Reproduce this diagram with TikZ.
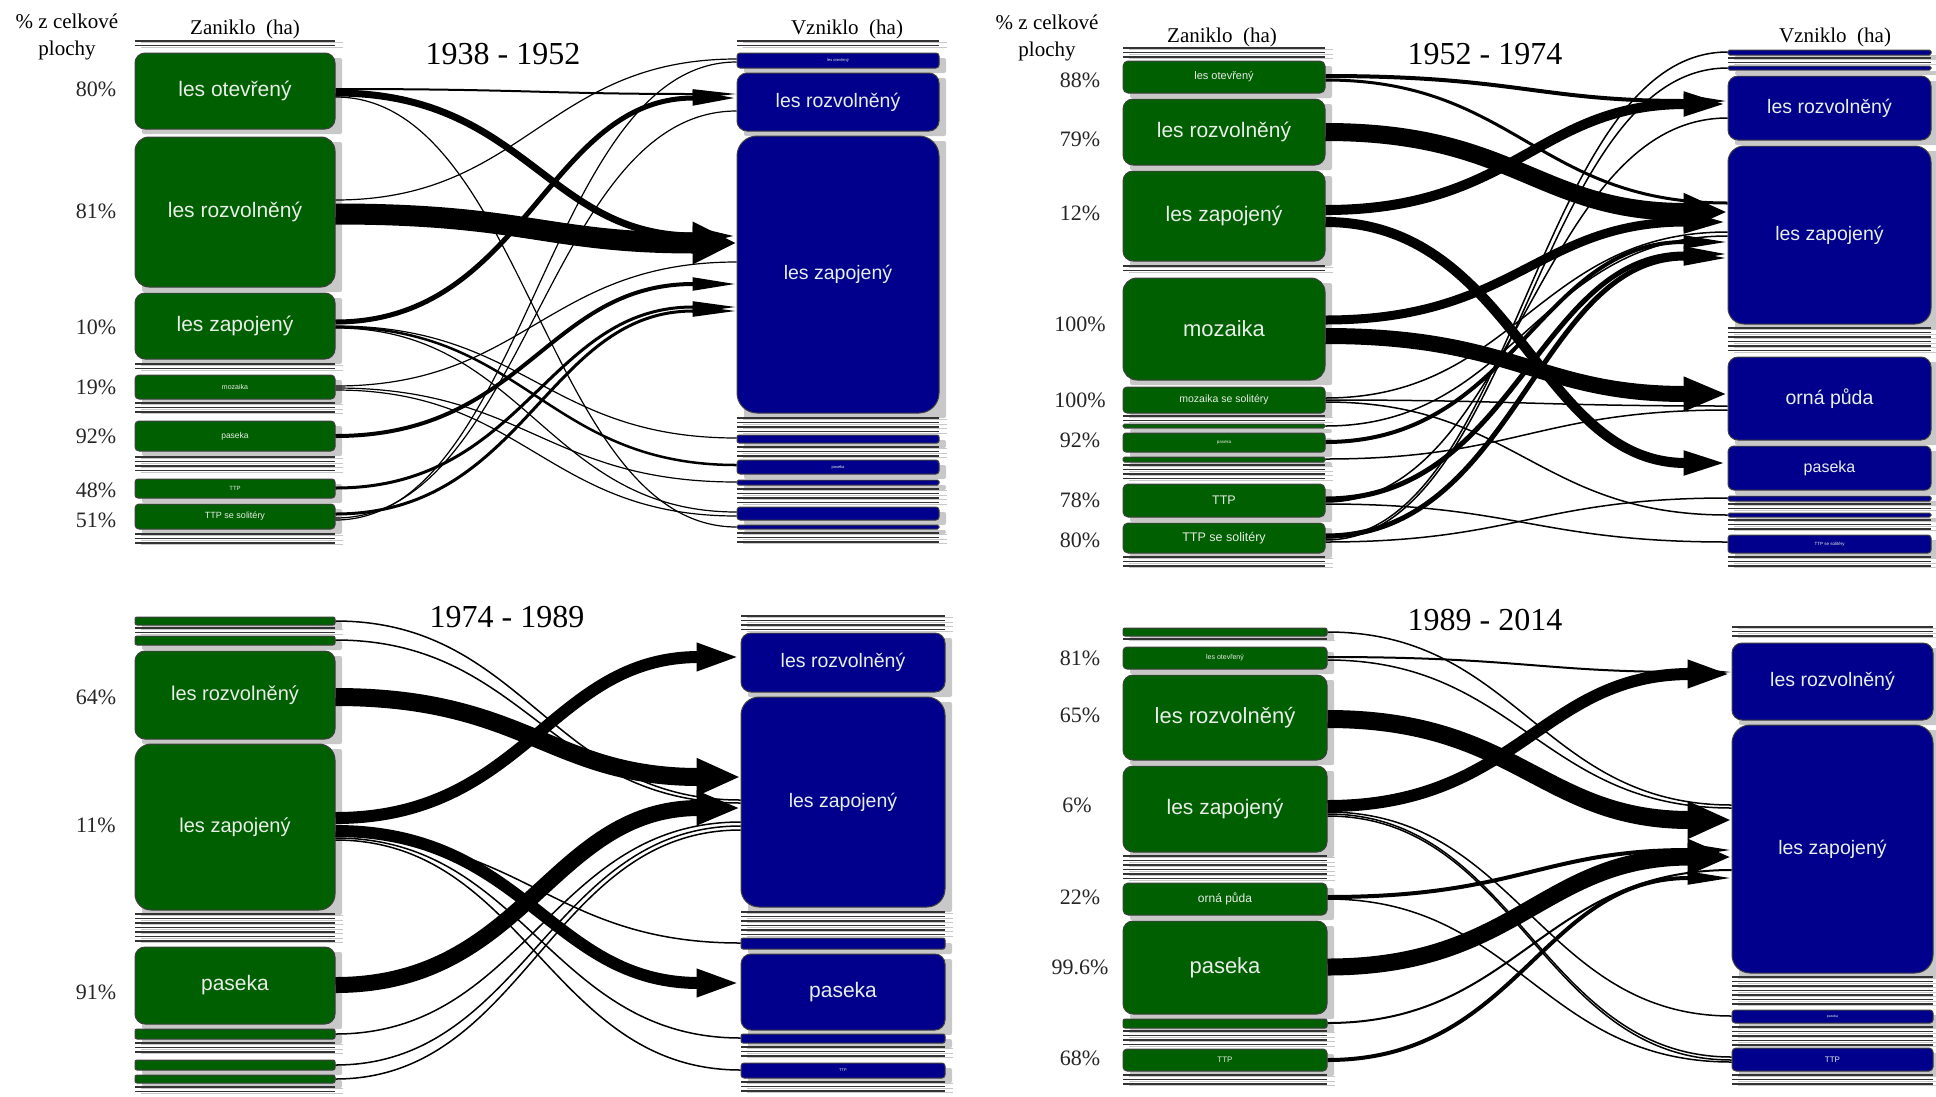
\documentclass[tikz,border=0pt]{standalone}
\usepackage{fontspec}
\setmainfont{Liberation Serif}
\newfontfamily\arialf{Liberation Sans}
\usetikzlibrary{arrows.meta}
\definecolor{grn}{RGB}{0,95,0}
\definecolor{blu}{RGB}{0,0,140}
\definecolor{shd}{RGB}{200,200,200}
\definecolor{txw}{RGB}{232,238,232}
\newcommand{\sz}[1]{\fontsize{#1}{#1}\selectfont}
\tikzset{
 gb/.style={draw=black!75, line width=1pt, fill=grn, text=txw, rounded corners=#1, inner sep=0pt},
 gb/.default=10pt,
 bb/.style={draw=black!75, line width=1pt, fill=blu, text=txw, rounded corners=#1, inner sep=0pt},
 bb/.default=10pt,
 pct/.style={font=\fontsize{22}{22}\selectfont, text=black!85},
 hdr/.style={font=\fontsize{21}{27}\selectfont, align=center},
 ttl/.style={font=\fontsize{32}{32}\selectfont},
}
% box: name, x0,y0,x1,y1, style, fontsize, text
\newcommand{\bx}[8]{%
  \fill[shd, rounded corners=2pt] (#2+7,#3+5) rectangle (#4+7,#5+5);
  \node[#6, minimum width={#4-#2}, minimum height={#5-#3}, font=\arialf\sz{#7}] (#1) at ({(#2+#4)/2},{(#3+#5)/2}) {#8};}
% stripes: x0 x1 ya yb
\newcommand{\stp}[4]{%
  \pgfmathtruncatemacro\nst{(#4-#3)/4.5}
  \foreach \i in {0,...,\nst}{
    \pgfmathsetmacro\yy{#3+4.5*\i}
    \draw[shd, line width=1.3pt] (#1+6,\yy+1.8) -- (#2+8,\yy+1.8);
    \draw[black!80, line width=1.1pt] (#1,\yy) -- (#2,\yy);
  }}
% flow without arrow: from, y0, to, y1, width
\newcommand{\fl}[5]{\draw[line width=#5pt] (#1.east |- 0,#2) .. controls +(190,0) and +(-190,0) .. (#3.west |- 0,#4);}
% flow with arrow
\newcommand{\fa}[5]{\pgfmathsetlengthmacro\aw{1.6*#5+6}%
  \draw[line width=#5pt, -{Triangle[length=44pt,width=\aw]}] (#1.east |- 0,#2) .. controls +(190,0) and +(-190,0) .. (#3.west |- 0,#4);}

\begin{document}
\begin{tikzpicture}[x=1pt,y=-1pt]
\fill[white] (0,0) rectangle (1936,1096);
\useasboundingbox (0,0) rectangle (1936,1096);

%%%%%%%%%%%%%%%% PANEL 1 %%%%%%%%%%%%%%%%
\node[hdr] (hp1) at (67,37) {\% z celkové\\plochy};
\node[hdr] (hz1) at (245,29) {Zaniklo~~(ha)};
\node[hdr] (hv1) at (847,29) {Vzniklo~~(ha)};
\node[ttl] (t1) at (503,54) {1938 - 1952};

\stp{135}{335}{41}{48}
\bx{a1}{135}{53}{335}{129}{gb}{21}{les otevřený}
\bx{a2}{135}{137}{335}{287}{gb=14pt}{21}{les rozvolněný}
\bx{a3}{135}{293}{335}{359}{gb}{21}{les zapojený}
\stp{135}{335}{364}{371}
\bx{a4}{135}{375}{335}{399}{gb=4pt}{7}{mozaika}
\stp{135}{335}{403}{416}
\bx{a5}{135}{421}{335}{451}{gb=4pt}{8.5}{paseka}
\stp{135}{335}{457}{473}
\bx{a6}{135}{479}{335}{498}{gb=3pt}{6}{TTP}
\bx{a7}{135}{504}{335}{529}{gb=4pt}{9}{TTP se solitéry}
\stp{135}{335}{534}{546}

\node[pct] (p11) at (96,89) {80\%};
\node[pct] (p12) at (96,211) {81\%};
\node[pct] (p13) at (96,327) {10\%};
\node[pct] (p14) at (96,387) {19\%};
\node[pct] (p15) at (96,436) {92\%};
\node[pct] (p16) at (96,490) {48\%};
\node[pct] (p17) at (96,520) {51\%};

\stp{737}{939}{41}{48}
\bx{b1}{737}{53}{939}{68}{bb=3pt}{4}{les otevřený}
\bx{b2}{737}{73}{939}{131}{bb}{19.5}{les rozvolněný}
\bx{b3}{737}{136}{939}{413}{bb=20pt}{19.5}{les zapojený}
\stp{737}{939}{418}{432}
\bx{b4}{737}{435}{939}{443}{bb=2pt}{1}{}
\stp{737}{939}{447}{456}
\bx{b5}{737}{460}{939}{474}{bb=3pt}{4}{paseka}
\bx{b6}{737}{480}{939}{485}{bb=1.5pt}{1}{}
\stp{737}{939}{489}{503}
\bx{b7}{737}{507}{939}{520}{bb=3pt}{1}{}
\bx{b8}{737}{525}{939}{529}{bb=1.5pt}{1}{}
\stp{737}{939}{533}{543}

\fa{a1}{89}{b2}{94}{2}
\fa{a1}{93}{b3}{236}{7}
\fl{a1}{97}{b8}{527}{1.2}
\fa{a2}{214}{b3}{243}{21}
\fl{a2}{200}{b1}{59}{1.2}
\fa{a3}{322}{b2}{98}{5}
\fl{a3}{326}{b4}{438}{1.2}
\fl{a3}{327}{b5}{465}{2.5}
\fl{a3}{328}{b7}{512}{1.2}
\fl{a4}{386}{b3}{262}{1.2}
\fl{a4}{388}{b6}{482}{1.2}
\fl{a4}{390}{b7}{516}{1.2}
\fa{a5}{436}{b3}{284}{4}
\fa{a6}{488}{b3}{307}{3}
\fa{a7}{514}{b3}{311}{3}
\fl{a7}{518}{b2}{111}{1.2}
\fl{a7}{520}{b1}{62}{1.2}

%%%%%%%%%%%%%%%% PANEL 2 %%%%%%%%%%%%%%%%
\node[hdr] (hp2) at (1047,38) {\% z celkové\\plochy};
\node[hdr] (hz2) at (1222,37) {Zaniklo~~(ha)};
\node[hdr] (hv2) at (1835,37) {Vzniklo~~(ha)};
\node[ttl] (t2) at (1485,54) {1952 - 1974};

\stp{1123}{1325}{48}{57}
\bx{c1}{1123}{61}{1325}{93}{gb=5pt}{11}{les otevřený}
\bx{c2}{1123}{99}{1325}{165}{gb}{21}{les rozvolněný}
\bx{c3}{1123}{171}{1325}{261}{gb}{21}{les zapojený}
\stp{1123}{1325}{266}{274}
\bx{c4}{1123}{278}{1325}{380}{gb=14pt}{22}{mozaika}
\bx{c5}{1123}{387}{1325}{413}{gb=4pt}{10.5}{mozaika se solitéry}
\stp{1123}{1325}{416}{421}
\bx{c6}{1123}{424}{1325}{428}{gb=1.5pt}{1}{}
\bx{c7}{1123}{433}{1325}{452}{gb=3pt}{4.5}{paseka}
\bx{c8}{1123}{457}{1325}{462}{gb=1.5pt}{1}{}
\stp{1123}{1325}{465}{479}
\bx{c9}{1123}{484}{1325}{517}{gb=5pt}{12.5}{TTP}
\bx{c10}{1123}{523}{1325}{553}{gb=5pt}{12.5}{TTP se solitéry}
\stp{1123}{1325}{557}{566}

\node[pct] (p21) at (1080,80) {88\%};
\node[pct] (p22) at (1080,139) {79\%};
\node[pct] (p23) at (1080,213) {12\%};
\node[pct] (p24) at (1080,324) {100\%};
\node[pct] (p25) at (1080,400) {100\%};
\node[pct] (p26) at (1080,440) {92\%};
\node[pct] (p27) at (1080,500) {78\%};
\node[pct] (p28) at (1080,540) {80\%};

\bx{d1}{1728}{50}{1931}{55}{bb=1.5pt}{1}{}
\stp{1728}{1931}{58}{63}
\bx{d2}{1728}{66}{1931}{70}{bb=1.5pt}{1}{}
\bx{d3}{1728}{76}{1931}{140}{bb}{19.5}{les rozvolněný}
\bx{d4}{1728}{146}{1931}{324}{bb=16pt}{19.5}{les zapojený}
\stp{1728}{1931}{328}{352}
\bx{d5}{1728}{357}{1931}{440}{bb=10pt}{19.5}{orná půda}
\bx{d6}{1728}{446}{1931}{490}{bb=6pt}{16}{paseka}
\bx{d7}{1728}{496}{1931}{501}{bb=1.5pt}{1}{}
\stp{1728}{1931}{504}{510}
\bx{d8}{1728}{513}{1931}{517}{bb=1.5pt}{1}{}
\stp{1728}{1931}{520}{531}
\bx{d9}{1728}{535}{1931}{553}{bb=3pt}{4.5}{TTP se solitéry}
\stp{1728}{1931}{557}{566}

\fa{c1}{76}{d3}{101}{4}
\fl{c1}{80}{d4}{203}{3}
\fa{c2}{132}{d4}{212}{18}
\fa{c3}{210}{d3}{104}{10}
\fa{c3}{222}{d6}{463}{10}
\fa{c4}{320}{d4}{222}{9}
\fa{c4}{336}{d5}{394}{16}
\fl{c5}{400}{d5}{406}{1.5}
\fl{c5}{398}{d4}{232}{1.5}
\fl{c5}{402}{d8}{515}{1.5}
\fl{c6}{426}{d4}{236}{1.5}
\fa{c7}{442}{d4}{242}{4}
\fl{c8}{459}{d5}{410}{1.5}
\fa{c9}{499}{d4}{254}{5}
\fl{c9}{502}{d3}{118}{1.5}
\fl{c9}{504}{d9}{542}{1.5}
\fa{c10}{536}{d4}{258}{5}
\fl{c10}{538}{d1}{52}{1.5}
\fl{c10}{540}{d2}{68}{1.5}
\fl{c10}{542}{d7}{498}{1.5}

%%%%%%%%%%%%%%%% PANEL 3 %%%%%%%%%%%%%%%%
\node[ttl] (t3) at (507,617) {1974 - 1989};

\bx{e1}{135}{617}{335}{625}{gb=2pt}{1}{}
\stp{135}{335}{628}{633}
\bx{e2}{135}{636}{335}{645}{gb=2pt}{1}{}
\bx{e3}{135}{651}{335}{739}{gb}{20}{les rozvolněný}
\bx{e4}{135}{744}{335}{910}{gb=16pt}{20}{les zapojený}
\stp{135}{335}{914}{943}
\bx{e5}{135}{947}{335}{1024}{gb}{21}{paseka}
\bx{e6}{135}{1029}{335}{1039}{gb=2pt}{1}{}
\stp{135}{335}{1043}{1056}
\bx{e7}{135}{1060}{335}{1070}{gb=2pt}{1}{}
\bx{e8}{135}{1075}{335}{1083}{gb=2pt}{1}{}
\stp{135}{335}{1087}{1095}

\node[pct] (p31) at (96,697) {64\%};
\node[pct] (p32) at (96,825) {11\%};
\node[pct] (p33) at (96,992) {91\%};

\stp{741}{945}{616}{630}
\bx{f1}{741}{633}{945}{692}{bb}{19.5}{les rozvolněný}
\bx{f2}{741}{697}{945}{907}{bb=18pt}{19.5}{les zapojený}
\stp{741}{945}{912}{935}
\bx{f3}{741}{938}{945}{949}{bb=2pt}{1}{}
\bx{f4}{741}{954}{945}{1030}{bb}{21}{paseka}
\bx{f5}{741}{1034}{945}{1043}{bb=2pt}{1}{}
\stp{741}{945}{1047}{1060}
\bx{f6}{741}{1063}{945}{1078}{bb=3pt}{4}{TTP}
\stp{741}{945}{1082}{1095}

\fl{e1}{621}{f2}{800}{1.5}
\fl{e2}{640}{f2}{803}{1.5}
\fa{e3}{697}{f2}{777}{18}
\fa{e4}{818}{f1}{657}{12}
\fa{e4}{831}{f4}{983}{12}
\fl{e4}{836}{f3}{943}{1.5}
\fl{e4}{838}{f5}{1038}{1.5}
\fl{e4}{840}{f6}{1070}{1.5}
\fa{e5}{985}{f2}{808}{16}
\fl{e6}{1034}{f2}{822}{1.5}
\fl{e7}{1065}{f2}{826}{1.5}
\fl{e8}{1079}{f2}{830}{1.5}

%%%%%%%%%%%%%%%% PANEL 4 %%%%%%%%%%%%%%%%
\node[ttl] (t4) at (1485,620) {1989 - 2014};

\bx{g1}{1123}{628}{1327}{636}{gb=2pt}{1}{}
\stp{1123}{1327}{639}{643}
\bx{g2}{1123}{647}{1327}{669}{gb=4pt}{7}{les otevřený}
\bx{g3}{1123}{675}{1327}{760}{gb}{22}{les rozvolněný}
\bx{g4}{1123}{766}{1327}{852}{gb}{21}{les zapojený}
\stp{1123}{1327}{856}{880}
\bx{g5}{1123}{883}{1327}{915}{gb=5pt}{12}{orná půda}
\bx{g6}{1123}{921}{1327}{1014}{gb}{22}{paseka}
\bx{g7}{1123}{1019}{1327}{1028}{gb=2pt}{1}{}
\stp{1123}{1327}{1031}{1045}
\bx{g8}{1123}{1049}{1327}{1071}{gb=4pt}{8}{TTP}
\stp{1123}{1327}{1075}{1088}

\node[pct] (p41) at (1080,658) {81\%};
\node[pct] (p42) at (1080,715) {65\%};
\node[pct] (p43) at (1077,805) {6\%};
\node[pct] (p44) at (1080,897) {22\%};
\node[pct] (p45) at (1080,967) {99.6\%};
\node[pct] (p46) at (1080,1058) {68\%};

\stp{1732}{1933}{627}{640}
\bx{h1}{1732}{643}{1933}{720}{bb}{19.5}{les rozvolněný}
\bx{h2}{1732}{725}{1933}{973}{bb=18pt}{19.5}{les zapojený}
\stp{1732}{1933}{977}{1007}
\bx{h3}{1732}{1010}{1933}{1023}{bb=3pt}{3.5}{paseka}
\stp{1732}{1933}{1027}{1045}
\bx{h4}{1732}{1048}{1933}{1071}{bb=4pt}{8}{TTP}
\stp{1732}{1933}{1075}{1088}

\fl{g1}{632}{h2}{805}{1.5}
\fa{g2}{657}{h1}{672}{2}
\fl{g2}{660}{h2}{808}{1.5}
\fa{g3}{719}{h2}{820}{18}
\fa{g4}{806}{h1}{674}{12}
\fl{g4}{812}{h3}{1016}{1.5}
\fl{g4}{814}{h4}{1057}{1.5}
\fl{g4}{816}{h4}{1060}{1.5}
\fa{g5}{897}{h2}{850}{4}
\fl{g5}{899}{h4}{1062}{1.5}
\fa{g6}{967}{h2}{857}{17}
\fl{g7}{1023}{h2}{870}{2}
\fa{g8}{1060}{h2}{878}{4}
\end{tikzpicture}
\end{document}
